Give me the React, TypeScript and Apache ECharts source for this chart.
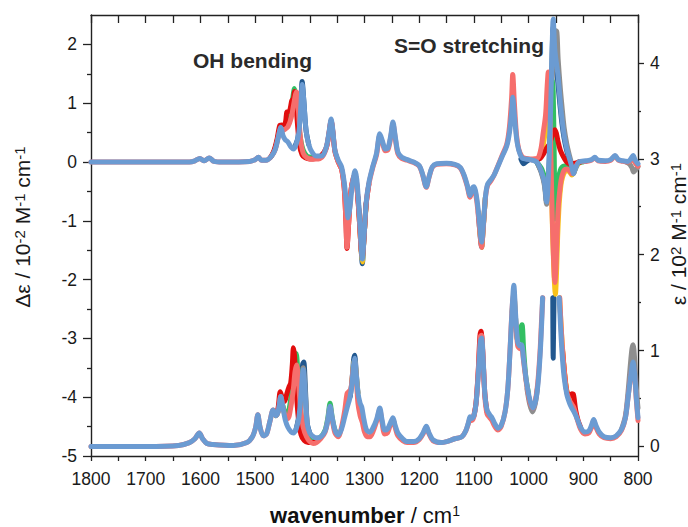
import React, { useEffect, useRef } from 'react';
import * as echarts from 'echarts';

// ---- axis ticks ----
const leftTicks = [-5, -4, -3, -2, -1, 0, 1, 2];
const rightTicks = [0, 1, 2, 3, 4];

// ---- VCD (Δε, left axis) ----
const vcdBlue = [
  [1800, 0], [1620, 0], [1610, 0.02], [1601, 0.06], [1593, 0.02], [1584, 0.07], [1575, 0.01], [1560, 0], [1510, 0.01], [1500, 0.04], [1494, 0.08], [1488, 0.03], [1480, 0.03], [1470, 0.1], [1463, 0.22], [1457, 0.45], [1453, 0.59], [1449, 0.45], [1445, 0.38], [1440, 0.34], [1434, 0.25], [1430, 0.22], [1425, 0.3], [1420, 0.5], [1416, 1.0], [1414, 1.32], [1411, 1.05], [1407, 0.55], [1402, 0.3], [1396, 0.17], [1388, 0.1], [1378, 0.1], [1370, 0.25], [1365, 0.5], [1361, 0.73], [1358, 0.55], [1354, 0.2], [1348, 0.03], [1342, -0.08], [1337, -0.35], [1333, -0.7], [1330, -0.95], [1327, -0.8], [1323, -0.45], [1319, -0.2], [1317, -0.15], [1314, -0.3], [1310, -0.8], [1306, -1.45], [1304, -1.65], [1301, -1.3], [1297, -0.7], [1292, -0.35], [1285, -0.08], [1278, 0.15], [1272, 0.48], [1267, 0.35], [1262, 0.22], [1257, 0.24], [1252, 0.45], [1248, 0.68], [1244, 0.45], [1239, 0.17], [1232, 0.08], [1222, 0.04], [1210, 0], [1200, -0.06], [1194, -0.2], [1187, -0.42], [1182, -0.25], [1176, -0.08], [1168, -0.03], [1150, -0.02], [1135, -0.04], [1125, -0.09], [1118, -0.22], [1112, -0.4], [1107, -0.57], [1103, -0.45], [1100, -0.42], [1095, -0.6], [1090, -1.0], [1086, -1.36], [1083, -1.1], [1079, -0.6], [1075, -0.38], [1069, -0.3], [1063, -0.22], [1055, -0.05], [1048, 0.1], [1040, 0.27], [1035, 0.5], [1031, 0.85], [1029, 1.1], [1026, 0.8], [1022, 0.4], [1018, 0.2], [1012, 0.07], [1005, 0.05], [997, 0.04], [985, 0.0], [977, -0.15], [971, -0.35], [967, -0.68], [964, -0.3], [961, 0.5], [958, 1.5], [955, 2.43], [952, 1.9], [948, 1.6], [946, 1.45], [942, 1.0], [939, 0.73], [935, 0.45], [930, 0.22], [925, 0.05], [921, -0.08], [918, -0.2], [914, -0.1], [908, 0], [895, 0.02], [885, 0.04], [879, 0.08], [873, 0.03], [860, 0.02], [850, 0.04], [842, 0.11], [836, 0.04], [828, 0.02], [818, 0.01], [812, 0.07], [809, 0.11], [805, 0.03], [800, -0.03],
];
const vcdSalmon = [
  [1800, 0], [1620, 0], [1610, 0.02], [1601, 0.06], [1593, 0.02], [1584, 0.07], [1575, 0.01], [1560, 0], [1510, 0.01], [1500, 0.04], [1494, 0.08], [1488, 0.03], [1480, 0.03], [1470, 0.1], [1463, 0.22], [1457, 0.45], [1453, 0.58], [1449, 0.54], [1445, 0.56], [1440, 0.6], [1434, 0.75], [1430, 0.95], [1426, 1.15], [1424, 1.19], [1421, 0.9], [1417, 0.4], [1412, 0.15], [1405, 0.07], [1396, 0.05], [1388, 0.05], [1378, 0.08], [1370, 0.23], [1365, 0.48], [1361, 0.7], [1358, 0.52], [1354, 0.18], [1348, 0.0], [1342, -0.12], [1337, -0.45], [1334, -1.0], [1332, -1.45], [1329, -1.05], [1325, -0.5], [1320, -0.26], [1317, -0.23], [1314, -0.4], [1310, -0.9], [1306, -1.5], [1304, -1.62], [1301, -1.3], [1297, -0.72], [1292, -0.38], [1285, -0.1], [1278, 0.12], [1272, 0.45], [1267, 0.32], [1262, 0.19], [1257, 0.21], [1252, 0.42], [1248, 0.65], [1244, 0.42], [1239, 0.14], [1232, 0.06], [1222, 0.03], [1210, -0.01], [1200, -0.07], [1194, -0.21], [1187, -0.43], [1182, -0.26], [1176, -0.09], [1168, -0.04], [1150, -0.03], [1135, -0.05], [1125, -0.1], [1118, -0.24], [1112, -0.42], [1107, -0.6], [1103, -0.48], [1100, -0.45], [1095, -0.65], [1090, -1.1], [1086, -1.45], [1083, -1.15], [1079, -0.62], [1075, -0.4], [1069, -0.32], [1063, -0.22], [1055, -0.04], [1048, 0.12], [1040, 0.3], [1035, 0.6], [1031, 1.1], [1029, 1.49], [1026, 1.0], [1022, 0.45], [1018, 0.22], [1012, 0.09], [1005, 0.06], [997, 0.05], [985, 0.05], [978, 0.2], [974, 0.45], [969, 0.8], [966, 1.3], [964, 1.53], [962, 1.2], [959, 0.0], [956, -1.2], [953, -1.95], [952, -2.05], [950, -1.8], [948, -1.3], [946, -0.8], [942, -0.4], [939, -0.24], [935, -0.14], [930, -0.12], [925, -0.15], [921, -0.2], [918, -0.18], [914, -0.08], [908, 0], [895, 0.01], [885, 0.03], [879, 0.07], [873, 0.02], [860, 0.01], [850, 0.03], [842, 0.1], [836, 0.03], [828, 0.01], [818, 0], [812, 0.03], [809, 0.05], [805, -0.02], [800, -0.07],
];
const vcdRed = [
  [1472, 0.08], [1466, 0.18], [1460, 0.38], [1455, 0.62], [1451, 0.63], [1447, 0.62], [1444, 0.7], [1442, 0.85], [1438, 0.86], [1436, 0.9], [1433, 1.04], [1430, 1.08], [1428, 1.2], [1426, 1.1], [1423, 0.7], [1419, 0.3], [1414, 0.12], [1408, 0.07], [1400, 0.05], [1390, 0.06], [1380, 0.1], [1370, 0.24], [1365, 0.48], [1361, 0.7], [1358, 0.52], [1354, 0.18], [1348, 0.0], [1342, -0.12], [1337, -0.45], [1334, -1.0], [1332, -1.47], [1329, -1.05], [1325, -0.5], [1320, -0.26], [1317, -0.23], [1314, -0.4], [1310, -0.9], [1306, -1.5], [1304, -1.6], [1301, -1.3], [1297, -0.72], [1292, -0.38],
  [1280, null],
  [995, 0.04], [985, 0.05], [979, 0.06], [972, 0.15], [966, 0.25], [961, 0.32], [957, 0.45], [954, 0.53], [952, 0.55], [949, 0.48], [946, 0.34], [942, 0.2], [937, 0.1], [932, 0.02], [928, -0.02], [922, -0.04], [915, -0.02], [905, 0],
];
const vcdGreen = [
  [1470, 0.1], [1463, 0.24], [1457, 0.48], [1453, 0.6], [1449, 0.57], [1445, 0.6], [1440, 0.68], [1435, 0.85], [1431, 1.1], [1428, 1.25], [1425, 1.1], [1421, 0.7], [1417, 0.4], [1412, 0.2], [1405, 0.1], [1396, 0.08],
  [1390, null],
  [985, 0.0], [977, -0.1], [971, -0.25], [967, -0.4], [963, -0.2], [960, 0.1], [958, 0.7], [956.5, 1.4], [955, 1.2], [953, 0.0], [951.5, -0.97], [949, -0.75], [946, -0.3], [942, -0.14], [939, -0.09], [935, -0.07], [930, -0.07], [925, -0.12], [921, -0.19], [917, -0.14], [910, -0.02], [900, 0],
];
const vcdYellow = [
  [1310, -0.88], [1306, -1.52], [1304, -1.7], [1301, -1.3], [1297, -0.72],
  [1290, null],
  [1090, -1.08], [1086, -1.45], [1083, -1.12], [1079, -0.6],
  [1060, null],
  [985, 0.02], [978, 0.12], [973, 0.3], [968, 0.65], [965, 1.1], [963, 1.15], [960, 0.4], [957, -0.9], [954, -1.8], [951, -2.25], [949, -1.9], [947, -1.3], [944, -0.7], [941, -0.4], [938, -0.26], [934, -0.17], [930, -0.14], [925, -0.17], [921, -0.22], [917, -0.17], [912, -0.06], [905, 0],
];
const vcdNavy = [
  [1428, 0.25], [1422, 0.4], [1418, 0.75], [1416, 1.1], [1414, 1.37], [1411, 1.05], [1407, 0.55], [1402, 0.3],
  [1395, null],
  [1312, -0.6], [1308, -1.1], [1306, -1.5], [1304, -1.73], [1301, -1.3], [1297, -0.7],
  [1290, null],
  [1092, -0.85], [1089, -1.2], [1086, -1.45], [1083, -1.12], [1079, -0.6],
  [1070, null],
  [1014, 0.05], [1009, -0.03], [1005, 0.0], [1000, 0.03],
  [995, null],
  [985, 0], [977, -0.16], [971, -0.36], [967, -0.68], [964, -0.38], [961, 0.4], [958, 1.4], [955, 2.3], [953, 2.2], [950, 1.7], [947, 1.4], [943, 1.0], [939, 0.65], [935, 0.4], [930, 0.18], [925, 0.02], [921, -0.08], [918, -0.2], [914, -0.1], [908, 0],
];
const vcdGray = [
  [985, 0], [977, -0.18], [971, -0.4], [967, -0.72], [964, -0.45], [961, 0.2], [958, 1.1], [955, 1.9], [952, 2.2], [949, 2.23], [946, 1.75], [942, 1.25], [939, 0.95], [935, 0.58], [930, 0.3], [925, 0.1], [921, -0.04], [918, -0.18], [914, -0.08], [908, 0],
  [880, null],
  [822, 0], [815, -0.04], [811, -0.1], [808, -0.17], [804, -0.13], [800, -0.08],
];

// ---- IR (ε, right axis) ----
const irBlue = [
  [1800, 0], [1700, 0.0], [1640, 0.01], [1620, 0.04], [1610, 0.08], [1602, 0.14], [1596, 0.08], [1588, 0.03], [1577, 0.02], [1540, 0.01], [1515, 0.04], [1505, 0.1], [1499, 0.2], [1495, 0.33], [1491, 0.2], [1485, 0.11], [1479, 0.13], [1473, 0.26], [1467, 0.38], [1462, 0.32], [1458, 0.36], [1453, 0.52], [1449, 0.4], [1445, 0.28], [1440, 0.2], [1434, 0.15], [1430, 0.14], [1425, 0.18], [1420, 0.3], [1416, 0.55], [1412, 0.8], [1409, 0.6], [1405, 0.25], [1400, 0.14], [1393, 0.1], [1387, 0.09], [1380, 0.1], [1372, 0.16], [1367, 0.28], [1363, 0.42], [1359, 0.3], [1354, 0.17], [1348, 0.12], [1342, 0.18], [1336, 0.31], [1331, 0.42], [1327, 0.5], [1323, 0.65], [1320, 0.85], [1318, 0.92], [1315, 0.75], [1312, 0.56], [1308, 0.45], [1305, 0.41], [1301, 0.28], [1296, 0.17], [1290, 0.15], [1284, 0.2], [1278, 0.28], [1272, 0.4], [1268, 0.28], [1263, 0.17], [1258, 0.18], [1253, 0.24], [1248, 0.3], [1244, 0.22], [1239, 0.14], [1230, 0.08], [1222, 0.05], [1210, 0.05], [1200, 0.08], [1193, 0.14], [1187, 0.21], [1182, 0.14], [1175, 0.07], [1160, 0.04], [1150, 0.05], [1135, 0.08], [1122, 0.1], [1115, 0.16], [1110, 0.25], [1107, 0.31], [1104, 0.29], [1100, 0.32], [1096, 0.45], [1092, 0.75], [1088, 1.1], [1086, 1.13], [1083, 0.9], [1080, 0.55], [1076, 0.38], [1071, 0.33], [1067, 0.3], [1062, 0.24], [1056, 0.19], [1050, 0.22], [1043, 0.36], [1038, 0.6], [1034, 0.99], [1030, 1.45], [1027, 1.68], [1024, 1.4], [1020, 1.09], [1016, 1.05], [1013, 1.06], [1009, 0.9], [1003, 0.64], [997, 0.47], [992, 0.4], [987, 0.48], [983, 0.64], [979, 0.95], [976, 1.3], [974.5, 1.55],
  [960, null],
  [944, 1.55], [942, 1.3], [939, 0.99], [935, 0.72], [930, 0.54], [925, 0.45], [921, 0.4], [917, 0.36], [912, 0.3], [905, 0.2], [897, 0.15], [890, 0.16], [885, 0.22], [881, 0.28], [877, 0.22], [871, 0.15], [862, 0.1], [850, 0.09], [840, 0.11], [830, 0.18], [823, 0.3], [818, 0.52], [813, 0.75], [809, 0.88], [806, 0.75], [803, 0.5], [800, 0.3],
];
const irSalmon = [
  [1800, 0], [1700, 0.0], [1640, 0.01], [1620, 0.04], [1610, 0.08], [1602, 0.14], [1596, 0.08], [1588, 0.03], [1577, 0.02], [1540, 0.01], [1515, 0.04], [1505, 0.1], [1499, 0.2], [1495, 0.33], [1491, 0.2], [1485, 0.11], [1479, 0.13], [1473, 0.26], [1467, 0.38], [1462, 0.32], [1458, 0.36], [1453, 0.52], [1449, 0.4], [1445, 0.32], [1440, 0.29], [1435, 0.4], [1430, 0.6], [1427, 0.78], [1424, 0.85], [1421, 0.7], [1417, 0.4], [1412, 0.2], [1406, 0.1], [1400, 0.05], [1394, 0.03], [1388, 0.04], [1380, 0.08], [1372, 0.15], [1367, 0.27], [1363, 0.4], [1359, 0.28], [1354, 0.14], [1348, 0.1], [1342, 0.2], [1336, 0.38], [1332, 0.55], [1329, 0.57], [1325, 0.6], [1321, 0.8], [1318, 0.88], [1315, 0.7], [1312, 0.45], [1308, 0.32], [1304, 0.25], [1300, 0.15], [1295, 0.1], [1290, 0.1], [1284, 0.16], [1278, 0.26], [1272, 0.38], [1268, 0.25], [1263, 0.13], [1258, 0.14], [1253, 0.22], [1248, 0.28], [1244, 0.2], [1239, 0.11], [1230, 0.06], [1222, 0.04], [1210, 0.04], [1200, 0.07], [1193, 0.13], [1187, 0.2], [1182, 0.13], [1175, 0.06], [1160, 0.04], [1150, 0.05], [1135, 0.08], [1122, 0.1], [1115, 0.16], [1110, 0.24], [1107, 0.29], [1104, 0.27], [1100, 0.31], [1096, 0.45], [1092, 0.78], [1088, 1.15], [1086, 1.16], [1083, 0.9], [1080, 0.52], [1076, 0.34], [1071, 0.3], [1067, 0.27], [1062, 0.21], [1056, 0.17], [1050, 0.21], [1043, 0.36], [1038, 0.6], [1034, 1.0], [1030, 1.45], [1027, 1.62], [1024, 1.35], [1020, 1.05], [1016, 1.02], [1013, 1.04], [1009, 0.88], [1003, 0.62], [997, 0.45], [992, 0.4], [987, 0.5], [983, 0.68], [979, 1.0], [976, 1.35], [974, 1.55],
  [960, null],
  [943, 1.55], [941, 1.3], [938, 1.02], [934, 0.75], [930, 0.56], [925, 0.48], [921, 0.44], [917, 0.4], [912, 0.3], [905, 0.18], [897, 0.13], [890, 0.14], [885, 0.2], [881, 0.27], [877, 0.2], [871, 0.13], [862, 0.09], [850, 0.08], [840, 0.1], [830, 0.17], [823, 0.3], [818, 0.52], [813, 0.75], [809, 0.86], [806, 0.72], [803, 0.48], [800, 0.27],
];
const irRed = [
  [1466, 0.37], [1462, 0.33], [1458, 0.4], [1454, 0.57], [1450, 0.5], [1446, 0.47], [1442, 0.55], [1438, 0.62], [1435, 0.66], [1432, 0.85], [1430, 1.03], [1428, 0.95], [1425, 0.6], [1421, 0.3], [1416, 0.12], [1410, 0.06], [1403, 0.04], [1395, 0.04], [1388, 0.05],
  [1380, null],
  [1100, 0.32], [1096, 0.46], [1092, 0.8], [1089, 1.15], [1087, 1.2], [1084, 1.0], [1080, 0.55], [1076, 0.36],
  [1000, null],
  [938, 1.0], [934, 0.74], [930, 0.57], [925, 0.52], [921, 0.55], [918, 0.54], [914, 0.38], [910, 0.28], [905, 0.2],
];
const irGreen = [
  [1466, 0.37], [1462, 0.32], [1458, 0.36], [1453, 0.5], [1449, 0.42], [1445, 0.36], [1440, 0.36], [1436, 0.45], [1432, 0.65], [1428, 0.9], [1425, 0.97], [1422, 0.8], [1418, 0.45], [1414, 0.25], [1408, 0.12], [1400, 0.08], [1390, 0.08], [1380, 0.1], [1372, 0.17], [1367, 0.3], [1363, 0.45], [1359, 0.3], [1354, 0.17], [1348, 0.12],
  [1340, null],
  [1030, 1.4], [1027, 1.6], [1024, 1.35], [1020, 1.1], [1017, 1.12], [1014, 1.24], [1012, 1.27], [1009, 1.0], [1005, 0.72], [1000, 0.55],
];
const irYellow = [
  [1323, 0.66], [1320, 0.86], [1318, 0.9], [1315, 0.73], [1312, 0.55],
  [1305, null],
  [943.5, 1.55], [941, 1.3], [938, 1.02], [934, 0.76], [930, 0.58], [925, 0.5],
];
const irNavy = [
  [1425, 0.18], [1420, 0.32], [1416, 0.6], [1413, 0.86], [1411, 0.88], [1408, 0.6], [1405, 0.25], [1400, 0.14],
  [1390, null],
  [1326, 0.52], [1323, 0.68], [1320, 0.9], [1318, 0.95], [1315, 0.76], [1312, 0.56],
  [1305, null],
  [955.8, 1.55], [955, 0.92], [954.3, 0.92], [953.5, 1.55],
];
const irGray = [
  [1425, 0.17], [1420, 0.3], [1416, 0.58], [1412, 0.82], [1409, 0.62], [1405, 0.26],
  [1398, null],
  [1003, 0.6], [998, 0.44], [993, 0.36], [988, 0.44], [984, 0.6],
  [975, null],
  [830, 0.18], [823, 0.32], [818, 0.58], [814, 0.85], [811, 1.02], [809, 1.06], [806, 0.9], [803, 0.6], [800, 0.4],
];

const C = {
  navy: '#22588f',
  gray: '#8e8e8e',
  yellow: '#f9c21a',
  green: '#32bf62',
  red: '#e10d0d',
  salmon: '#f66e6c',
  blue: '#6b9bd2',
};

const FONT = '"Liberation Sans", Arial, Helvetica, sans-serif';
const AXIS_COLOR = '#222';
const TXT = '#1a1a1a';

function line(name: string, data: any[], color: string, yAxisIndex: number, width = 5) {
  return {
    type: 'line',
    name,
    data,
    xAxisIndex: 0,
    yAxisIndex,
    symbol: 'none',
    showSymbol: false,
    smooth: 0.3,
    connectNulls: false,
    silent: true,
    lineStyle: { color, width, cap: 'round', join: 'round' },
    itemStyle: { color },
  };
}

export default function App() {
  const ref = useRef<HTMLDivElement>(null);

  useEffect(() => {
    if (!ref.current) return;
    const chart = echarts.init(ref.current, null, { renderer: 'svg' });

    const xCommon = {
      type: 'value',
      min: 800,
      max: 1800,
      interval: 100,
      inverse: true,
      splitLine: { show: false },
      minorSplitLine: { show: false },
      axisLine: { show: true, onZero: false, lineStyle: { color: AXIS_COLOR, width: 1.4 } },
    };

    const sup = { fontSize: 15, fontFamily: FONT, fill: TXT, verticalAlign: 'top' };
    const nrm = { fontSize: 21, fontFamily: FONT, fill: TXT };

    chart.setOption({
      animation: false,
      backgroundColor: '#ffffff',
      grid: { left: 91, right: 50, top: 15, bottom: 71, containLabel: false },
      xAxis: [
        {
          ...xCommon,
          position: 'bottom',
          axisTick: { show: true, inside: false, length: 5, lineStyle: { color: AXIS_COLOR, width: 1.3 } },
          minorTick: { show: true, splitNumber: 2, length: 5, lineStyle: { color: AXIS_COLOR, width: 1.3 } },
          axisLabel: {
            show: true,
            fontSize: 17.5,
            color: TXT,
            fontFamily: FONT,
            margin: 14,
            formatter: (v: number) => String(v),
          },
        },
        {
          ...xCommon,
          position: 'top',
          axisTick: { show: true, inside: true, length: 8, lineStyle: { color: AXIS_COLOR, width: 1.3 } },
          minorTick: { show: true, splitNumber: 2, length: 8, lineStyle: { color: AXIS_COLOR, width: 1.3 } },
          axisLabel: { show: false },
        },
      ],
      yAxis: [
        {
          type: 'value',
          position: 'left',
          min: -5,
          max: 2.5,
          interval: 1,
          splitLine: { show: false },
          minorSplitLine: { show: false },
          axisLine: { show: true, onZero: false, lineStyle: { color: AXIS_COLOR, width: 1.4 } },
          axisTick: { show: true, inside: false, length: 8, customValues: leftTicks, lineStyle: { color: AXIS_COLOR, width: 1.3 } },
          minorTick: { show: true, splitNumber: 2, length: 4, lineStyle: { color: AXIS_COLOR, width: 1.3 } },
          axisLabel: { show: true, customValues: leftTicks, fontSize: 17.5, color: TXT, fontFamily: FONT, margin: 14 },
        },
        {
          type: 'value',
          position: 'right',
          min: -0.1,
          max: 4.5,
          minInterval: 1,
          maxInterval: 1,
          splitLine: { show: false },
          minorSplitLine: { show: false },
          axisLine: { show: true, onZero: false, lineStyle: { color: AXIS_COLOR, width: 1.4 } },
          axisTick: { show: true, inside: false, length: 6, customValues: rightTicks, lineStyle: { color: AXIS_COLOR, width: 1.3 } },
          minorTick: { show: true, splitNumber: 2, length: 3, lineStyle: { color: AXIS_COLOR, width: 1.3 } },
          axisLabel: { show: true, customValues: rightTicks, fontSize: 17.5, color: TXT, fontFamily: FONT, margin: 12 },
        },
      ],
      series: [
        line('IR navy', irNavy, C.navy, 1),
        line('IR gray', irGray, C.gray, 1),
        line('IR yellow', irYellow, C.yellow, 1),
        line('IR green', irGreen, C.green, 1),
        line('IR red', irRed, C.red, 1),
        line('IR salmon', irSalmon, C.salmon, 1),
        line('IR blue', irBlue, C.blue, 1),
        line('VCD navy', vcdNavy, C.navy, 0),
        line('VCD gray', vcdGray, C.gray, 0),
        line('VCD yellow', vcdYellow, C.yellow, 0),
        line('VCD green', vcdGreen, C.green, 0),
        line('VCD red', vcdRed, C.red, 0),
        line('VCD salmon', vcdSalmon, C.salmon, 0),
        line('VCD blue', vcdBlue, C.blue, 0),
      ],
      graphic: [
        {
          type: 'text',
          x: 22,
          y: 227,
          rotation: Math.PI / 2,
          style: {
            text: '{n|Δε / 10}{s|-2}{n| M}{s|-1}{n| cm}{s|-1}',
            align: 'center',
            verticalAlign: 'middle',
            rich: { n: nrm, s: sup },
          },
        },
        {
          type: 'text',
          x: 678,
          y: 234,
          rotation: Math.PI / 2,
          style: {
            text: '{n|ε / 10}{s|2}{n| M}{s|-1}{n| cm}{s|-1}',
            align: 'center',
            verticalAlign: 'middle',
            rich: { n: nrm, s: sup },
          },
        },
        {
          type: 'text',
          x: 365,
          y: 515,
          style: {
            text: '{b|wavenumber}{n| / cm}{s|1}',
            align: 'center',
            verticalAlign: 'middle',
            rich: {
              b: { fontSize: 22, fontWeight: 'bold', fontFamily: FONT, fill: '#111' },
              n: { fontSize: 22, fontFamily: FONT, fill: '#111' },
              s: { fontSize: 14, fontFamily: FONT, fill: '#111', verticalAlign: 'top' },
            },
          },
        },
        {
          type: 'text',
          x: 193,
          y: 60,
          style: {
            text: 'OH bending',
            fontSize: 21,
            fontWeight: 'bold',
            fontFamily: FONT,
            fill: '#2a2a2a',
            align: 'left',
            verticalAlign: 'middle',
          },
        },
        {
          type: 'text',
          x: 394,
          y: 45,
          style: {
            text: 'S=O stretching',
            fontSize: 21,
            fontWeight: 'bold',
            fontFamily: FONT,
            fill: '#2a2a2a',
            align: 'left',
            verticalAlign: 'middle',
          },
        },
      ],
    });

    return () => chart.dispose();
  }, []);

  return (
    <div
      ref={ref}
      style={{ position: 'fixed', left: 0, top: 0, width: 688, height: 527, background: '#fff' }}
    />
  );
}
